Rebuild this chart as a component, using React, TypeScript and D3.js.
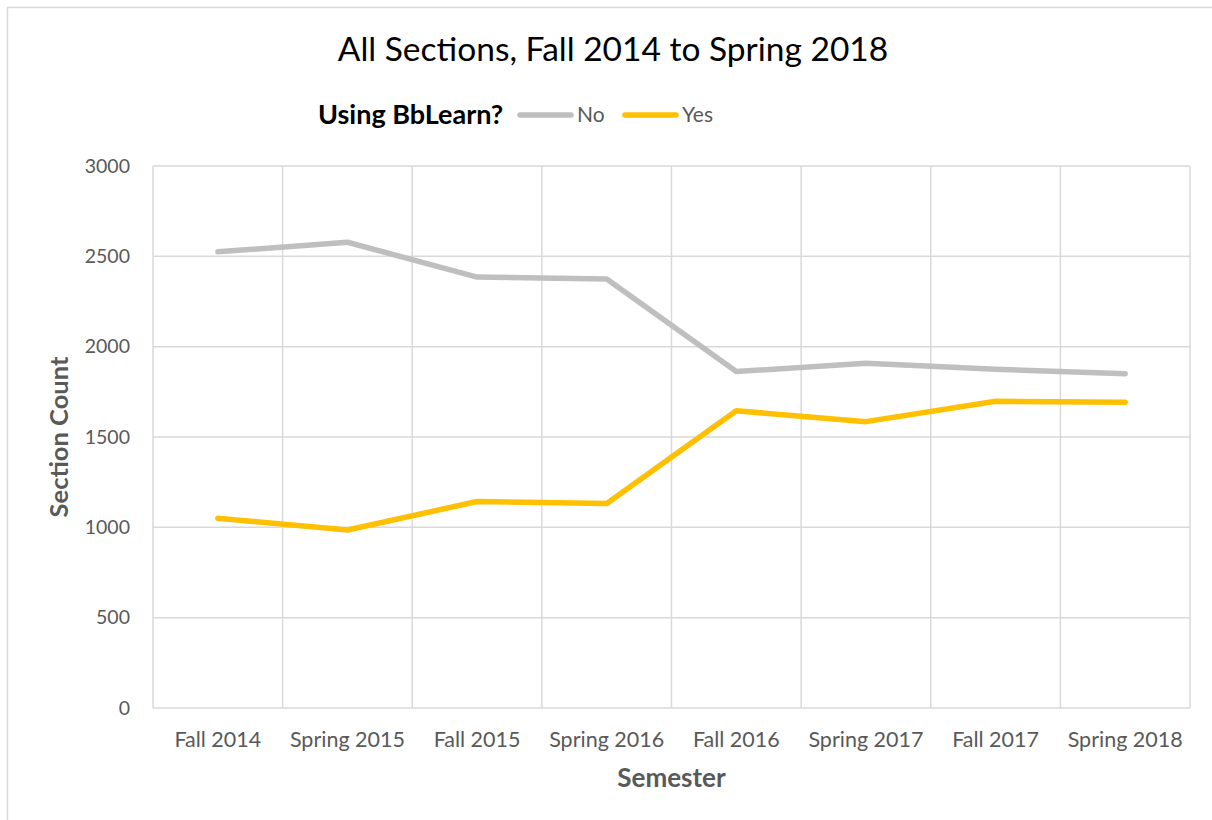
import React, { useEffect, useRef } from 'react'
import * as d3 from 'd3'

const semesters = ['Fall 2014', 'Spring 2015', 'Fall 2015', 'Spring 2016', 'Fall 2016', 'Spring 2017', 'Fall 2017', 'Spring 2018']
const noValues = [2525, 2578, 2385, 2375, 1862, 1908, 1875, 1850]
const yesValues = [1050, 985, 1143, 1132, 1645, 1585, 1698, 1692]
const yTicks = [0, 500, 1000, 1500, 2000, 2500, 3000]

const FONT = 'Lato, "Open Sans", sans-serif'

export default function App() {
    const ref = useRef<SVGSVGElement>(null)

    useEffect(() => {
        const svg = d3.select(ref.current)
        svg.selectAll('*').remove()

        const w = 1212
        const h = 820
        const margin = { top: 166, right: 22, bottom: 112, left: 153 }
        const gw = w - margin.left - margin.right
        const gh = h - margin.top - margin.bottom

        // chart frame
        svg.append('rect').attr('x', 7.5).attr('y', 7.5).attr('width', w - 6).attr('height', h)
            .attr('fill', 'white').attr('stroke', '#d9d9d9').attr('stroke-width', 1.5)

        const x = d3.scaleBand().domain(semesters).range([0, gw]).padding(0)
        const y = d3.scaleLinear().domain([0, 3000]).range([gh, 0])

        const g = svg.append('g').attr('transform', `translate(${margin.left}, ${margin.top})`)

        // horizontal grid
        g.selectAll('.hgrid').data(yTicks).join('line').attr('class', 'hgrid')
            .attr('x1', 0).attr('x2', gw).attr('y1', d => y(d)).attr('y2', d => y(d))
            .attr('stroke', '#d9d9d9').attr('stroke-width', 1.5)

        // vertical grid at category boundaries
        const bounds = semesters.map(s => x(s) as number).concat([gw])
        g.selectAll('.vgrid').data(bounds).join('line').attr('class', 'vgrid')
            .attr('x1', d => d).attr('x2', d => d).attr('y1', 0).attr('y2', gh)
            .attr('stroke', '#d9d9d9').attr('stroke-width', 1.5)

        // y tick labels
        g.selectAll('.ylab').data(yTicks).join('text').attr('class', 'ylab')
            .attr('x', -23).attr('y', d => y(d)).attr('dy', '0.35em')
            .attr('text-anchor', 'end').attr('font-family', FONT).attr('font-size', 19.5)
            .attr('fill', '#595959').text(d => d)

        // x tick labels
        g.selectAll('.xlab').data(semesters).join('text').attr('class', 'xlab')
            .attr('x', d => (x(d) as number) + x.bandwidth() / 2).attr('y', gh + 39)
            .attr('text-anchor', 'middle').attr('font-family', FONT).attr('font-size', 21.5)
            .attr('fill', '#595959').text(d => d)

        const line = d3.line<number>()
            .x((d, i) => (x(semesters[i]) as number) + x.bandwidth() / 2)
            .y(d => y(d))

        const series = [
            { values: noValues, color: '#bfbfbf' },
            { values: yesValues, color: '#ffc000' },
        ]
        g.selectAll('.series').data(series).join('path').attr('class', 'series')
            .attr('d', d => line(d.values))
            .attr('fill', 'none').attr('stroke', d => d.color).attr('stroke-width', 5.5)
            .attr('stroke-linecap', 'round').attr('stroke-linejoin', 'round')

        // title
        svg.append('text').attr('x', 613).attr('y', 61).attr('text-anchor', 'middle')
            .attr('font-family', FONT).attr('font-size', 33.5).attr('fill', '#000').text('All Sections, Fall 2014 to Spring 2018')

        // axis titles
        svg.append('text').attr('x', margin.left + gw / 2).attr('y', 787).attr('text-anchor', 'middle')
            .attr('font-family', FONT).attr('font-size', 26).attr('font-weight', 'bold').attr('fill', '#595959').text('Semester')
        svg.append('text').attr('transform', `translate(68, ${margin.top + gh / 2}) rotate(-90)`).attr('text-anchor', 'middle')
            .attr('font-family', FONT).attr('font-size', 25.5).attr('font-weight', 'bold').attr('fill', '#595959').text('Section Count')

        // legend
        const lg = svg.append('g')
        lg.append('text').attr('x', 318).attr('y', 115).attr('dy', '0.35em')
            .attr('font-family', FONT).attr('font-size', 27).attr('font-weight', 'bold').attr('fill', '#000').text('Using BbLearn?')
        const legendItems = [
            { label: 'No', color: '#bfbfbf', x0: 520 },
            { label: 'Yes', color: '#ffc000', x0: 625 },
        ]
        legendItems.forEach(it => {
            lg.append('line').attr('x1', it.x0).attr('x2', it.x0 + 51).attr('y1', 115).attr('y2', 115)
                .attr('stroke', it.color).attr('stroke-width', 5.5).attr('stroke-linecap', 'round')
            lg.append('text').attr('x', it.x0 + 57).attr('y', 115).attr('dy', '0.35em')
                .attr('font-family', FONT).attr('font-size', 21).attr('fill', '#595959').text(it.label)
        })
    }, [])

    return (
        <div style={{ position: 'absolute', left: 0, top: 0 }}>
            <svg ref={ref} width={1212} height={820} style={{ display: 'block' }}></svg>
        </div>
    )
}
